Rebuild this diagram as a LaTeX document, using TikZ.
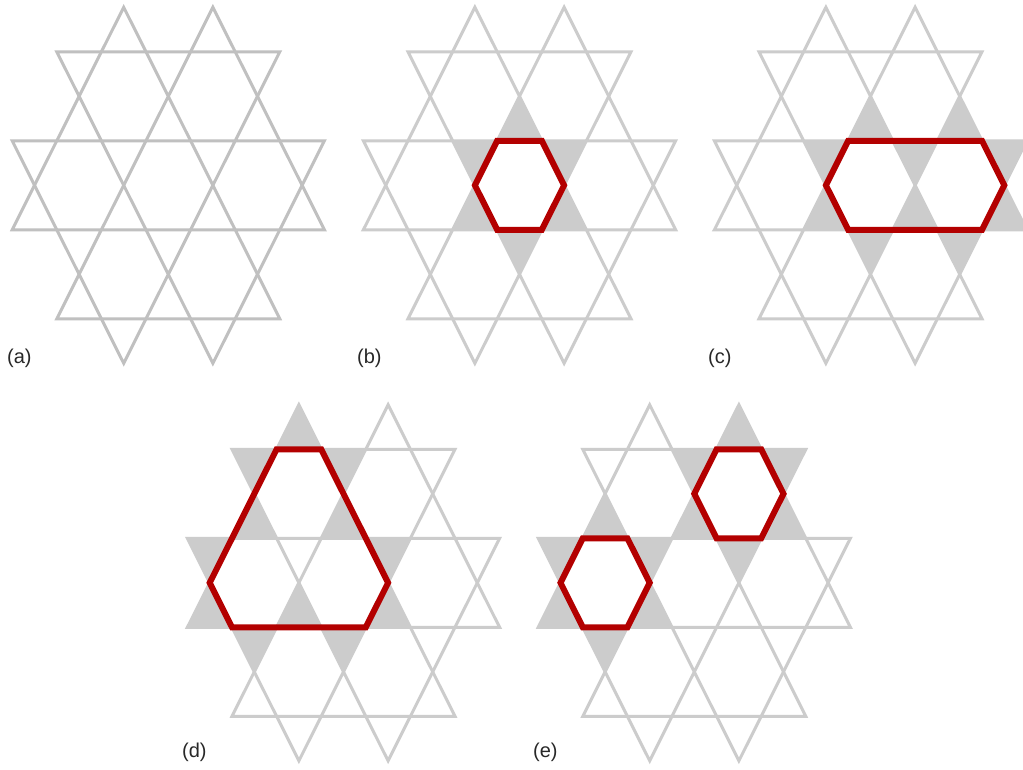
\documentclass[tikz,border=0pt]{standalone}
\usepackage{fontspec}
\setmainfont{Liberation Sans}

\definecolor{bondgray}{RGB}{204,204,204}
\definecolor{bonddark}{RGB}{192,192,192}
\definecolor{ringred}{RGB}{179,0,0}
\definecolor{labelgray}{RGB}{40,40,40}

% kagome patch: two closed zigzag stars
\newcommand{\kagomepatch}[1]{%
  \draw[#1] (-2,4) -- (-7,-1) -- (7,-1) -- (2,4) -- (-5,-3) -- (5,-3) -- cycle;
  \draw[#1] (-2,-4) -- (-7,1) -- (7,1) -- (2,-4) -- (-5,3) -- (5,3) -- cycle;}
% shaded triangles, apex at (#1,#2)
\newcommand{\uptri}[2]{\fill[trifill] (#1,#2) -- ++(-1,-1) -- ++(2,0) -- cycle;}
\newcommand{\dntri}[2]{\fill[trifill] (#1,#2) -- ++(-1,1) -- ++(2,0) -- cycle;}

\begin{document}
\begin{tikzpicture}[x=22.3pt, y=44.5pt,
    bondline/.style={draw=bondgray, line width=3pt},
    bondlinea/.style={draw=bonddark, line width=3pt},
    trifill/.style={fill=bondgray},
    ringline/.style={draw=ringred, line width=6pt},
    panel/.style={font=\fontsize{20}{20}\selectfont, text=labelgray, anchor=base west, inner sep=0pt}]
    \path[use as bounding box, clip] (0,0) rectangle (1023pt,770pt);
    \fill[white] (0,0) rectangle (1023pt,770pt);

    % (a) bare lattice
    \begin{scope}[shift={(168.3pt,584.7pt)}]
        \kagomepatch{bondlinea}
    \end{scope}
    \node[panel] (la) at (7pt,406pt) {(a)};

    % (b) one hexagon
    \begin{scope}[shift={(519.5pt,584.7pt)}]
        \uptri{0}{2} \dntri{0}{-2}
        \dntri{-2}{0} \uptri{-2}{0} \dntri{2}{0} \uptri{2}{0}
        \kagomepatch{bondline}
        \draw[ringline] (-2,0) -- (-1,1) -- (1,1) -- (2,0) -- (1,-1) -- (-1,-1) -- cycle;
    \end{scope}
    \node[panel] (lb) at (357pt,406pt) {(b)};

    % (c) two hexagons side by side
    \begin{scope}[shift={(870.5pt,584.7pt)}]
        \uptri{0}{2} \uptri{4}{2} \dntri{2}{0} \uptri{2}{0}
        \dntri{0}{-2} \dntri{4}{-2}
        \dntri{-2}{0} \uptri{-2}{0} \dntri{6}{0} \uptri{6}{0}
        \kagomepatch{bondline}
        \draw[ringline] (-2,0) -- (-1,1) -- (5,1) -- (6,0) -- (5,-1) -- (-1,-1) -- cycle;
    \end{scope}
    \node[panel] (lc) at (708pt,406pt) {(c)};

    % (d) three hexagons round a triangle
    \begin{scope}[shift={(343.5pt,187.2pt)}]
        \uptri{-2}{4} \dntri{-4}{2} \dntri{0}{2}
        \uptri{-4}{2} \uptri{0}{2}
        \dntri{-6}{0} \dntri{2}{0} \uptri{-6}{0} \uptri{2}{0} \uptri{-2}{0}
        \dntri{-4}{-2} \dntri{0}{-2}
        \kagomepatch{bondline}
        \draw[ringline] (-6,0) -- (-3,3) -- (-1,3) -- (2,0) -- (1,-1) -- (-5,-1) -- cycle;
    \end{scope}
    \node[panel] (ld) at (182pt,12pt) {(d)};

    % (e) two separate hexagons
    \begin{scope}[shift={(694.3pt,187.2pt)}]
        \uptri{2}{4} \dntri{4}{2} \uptri{4}{2} \dntri{2}{0} \uptri{0}{2} \dntri{0}{2}
        \uptri{-4}{2} \dntri{-2}{0} \uptri{-2}{0} \dntri{-4}{-2} \uptri{-6}{0} \dntri{-6}{0}
        \kagomepatch{bondline}
        \draw[ringline] (0,2) -- (1,3) -- (3,3) -- (4,2) -- (3,1) -- (1,1) -- cycle;
        \draw[ringline] (-6,0) -- (-5,1) -- (-3,1) -- (-2,0) -- (-3,-1) -- (-5,-1) -- cycle;
    \end{scope}
    \node[panel] (le) at (533pt,12pt) {(e)};
\end{tikzpicture}
\end{document}
